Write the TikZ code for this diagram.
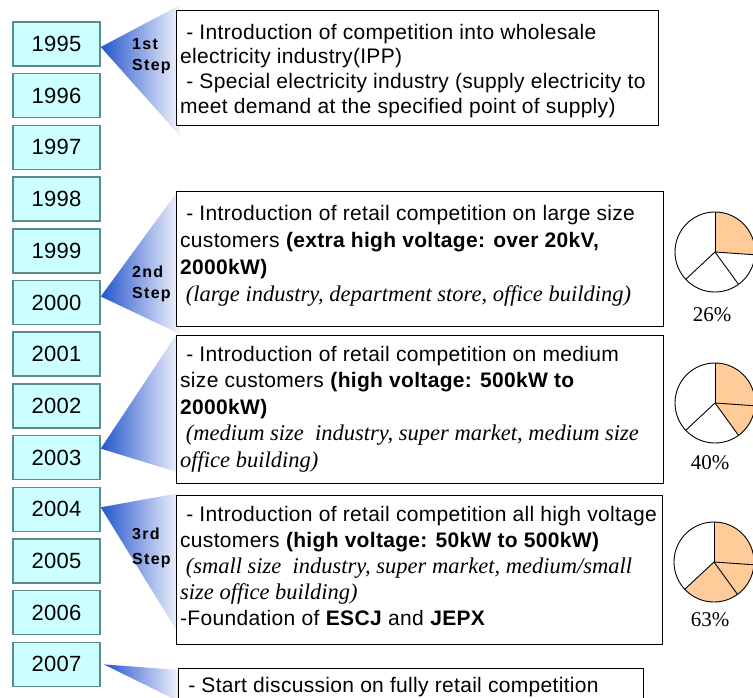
\documentclass[tikz,border=0pt]{standalone}
\usepackage{fontspec}
\setmainfont{Liberation Sans}[LetterSpace=1.5]
\newfontfamily\tnr{Liberation Serif}
\pgfdeclarelayer{bg}
\pgfsetlayers{bg,main}
\definecolor{yfill}{HTML}{CCFFFF}
\definecolor{ydraw}{HTML}{5A8C8C}
\definecolor{wblue}{HTML}{2455CC}
\definecolor{wend}{HTML}{F4F5FC}
\definecolor{piefill}{HTML}{FFCC99}
\newcommand{\itl}[1]{{\tnr\itshape\fontsize{22.5}{22.5}\selectfont #1}}
\begin{document}
\begin{tikzpicture}[x=1pt,y=1pt,
  yearbox/.style={draw=ydraw, fill=yfill, line width=1.5pt, minimum width=87pt, minimum height=44pt, inner sep=0pt, font=\fontsize{22}{26}\selectfont},
  tbox/.style={draw=black, fill=white, line width=1.2pt, inner sep=0pt, anchor=north west},
  ttext/.style={anchor=north west, inner sep=0pt, align=left, font=\fontsize{21}{#1}\selectfont},
  ttext/.default=25.5,
  steplbl/.style={anchor=north west, inner sep=0pt, align=left, font=\fontsize{16}{#1}\selectfont\bfseries\addfontfeature{LetterSpace=8}},
  steplbl/.default=21,
  wedge/.style={left color=wblue, right color=wend, draw=none},
  pct/.style={font=\tnr\fontsize{21}{24}\selectfont, inner sep=0pt},
  pie/.style={draw=black, line width=0.9pt}]
\useasboundingbox (0,0) rectangle (753,-698);

% year boxes
\foreach \yr [count=\i from 0] in {1995,1996,...,2007} {
  \node[yearbox] (y\yr) at (56.5,{-(44+51.7*\i)}) {\yr};
}

% text boxes
\node[tbox, minimum width=482, minimum height=115] (b1) at (176,-10) {};
\node[ttext=24.7] (t1) at ([xshift=4, yshift=-11.7]b1.north west) {\strut~- Introduction of competition into wholesale\\electricity industry(IPP)\\~- Special electricity industry (supply electricity to\\meet demand at the specified point of supply)};

\node[tbox, minimum width=487, minimum height=135] (b2) at (176,-191) {};
\node[ttext=27] (t2) at ([xshift=4, yshift=-10.1]b2.north west) {\strut~- Introduction of retail competition on large size\\customers \textbf{(extra high voltage: over 20kV,}\\\textbf{2000kW)}\\\itl{\ (large industry, department store, office building)}};

\node[tbox, minimum width=487, minimum height=148] (b3) at (176,-335) {};
\node[ttext=26.5] (t3) at ([xshift=4, yshift=-7.45]b3.north west) {\strut~- Introduction of retail competition on medium\\size customers \textbf{(high voltage: 500kW to}\\\textbf{2000kW)}\\\itl{\ (medium size\ \ industry, super market, medium size}\\\itl{office building)}};

\node[tbox, minimum width=486, minimum height=149] (b4) at (176,-495) {};
\node[ttext=26] (t4) at ([xshift=4, yshift=-7.8]b4.north west) {\strut~- Introduction of retail competition all high voltage\\customers \textbf{(high voltage: 50kW to 500kW)}\\\itl{\ (small size\ \ industry, super market, medium/small}\\\itl{size office building)}\\-Foundation of \textbf{ESCJ} and \textbf{JEPX}};

\node[tbox, minimum width=465, minimum height=50] (b5) at (178,-668) {};
\node[ttext=25] (t5) at ([xshift=4, yshift=-6.5]b5.north west) {\strut~- Start discussion on fully retail competition};

% wedges
\begin{pgfonlayer}{bg}
\shade[wedge] ([yshift=-3]y1995.east) -- (180,-5) -- (180,-136) -- cycle;
\shade[wedge] ([yshift=6]y2000.east) -- (180,-188) -- (180,-334) -- cycle;
\shade[wedge] ([yshift=9]y2003.east) -- (180,-329) -- (180,-473) -- cycle;
\shade[wedge] ([yshift=2]y2004.east) -- (180,-493) -- (180,-636) -- cycle;
\shade[wedge] ([xshift=3]y2007.east) -- (180,-670) -- (180,-702) -- cycle;
\end{pgfonlayer}

% step labels
\node[steplbl] (s1) at (132,-34.3) {\strut 1st\\Step};
\node[steplbl] (s2) at (132,-262.3) {\strut 2nd\\Step};
\node[steplbl=25] (s3) at (132,-521.5) {\strut 3rd\\Step};

% pies
\begin{scope}[shift={(715,-252)}]
  \fill[piefill] (0,0) -- (90:40) arc[start angle=90, end angle=-4, radius=40] -- cycle;
  \draw[pie] (0,0) circle[radius=40];
  \foreach \a in {90,-4,-54,-137} \draw[pie] (0,0) -- (\a:40);
\end{scope}
\begin{scope}[shift={(715,-403)}]
  \fill[piefill] (0,0) -- (90:40) arc[start angle=90, end angle=-54, radius=40] -- cycle;
  \draw[pie] (0,0) circle[radius=40];
  \foreach \a in {90,-4,-54,-137} \draw[pie] (0,0) -- (\a:40);
\end{scope}
\begin{scope}[shift={(714,-562)}]
  \fill[piefill] (0,0) -- (90:40) arc[start angle=90, end angle=-137, radius=40] -- cycle;
  \draw[pie] (0,0) circle[radius=40];
  \foreach \a in {90,-4,-54,-137} \draw[pie] (0,0) -- (\a:40);
\end{scope}
\node[pct] (p1) at (712,-315) {26\%};
\node[pct] (p2) at (710,-463) {40\%};
\node[pct] (p3) at (710,-620) {63\%};
\end{tikzpicture}
\end{document}
